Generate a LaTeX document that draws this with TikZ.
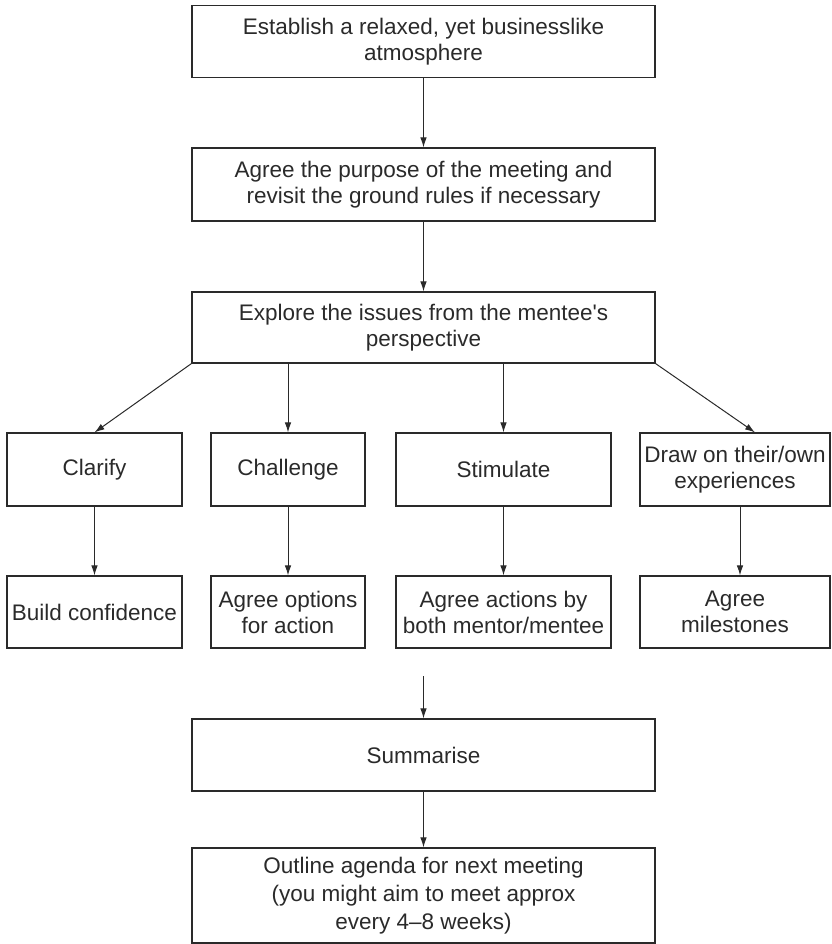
\documentclass[tikz,border=0pt]{standalone}
\usepackage{fontspec}
\setmainfont{Liberation Sans}
\usetikzlibrary{arrows.meta}
\definecolor{ink}{HTML}{2A2A2A}
\begin{document}
\begin{tikzpicture}[x=1pt,y=1pt,
  box/.style={draw=ink, line width=1.1pt, inner sep=0pt, align=center, text=ink,
    font=\fontsize{22.5}{26}\selectfont},
  conn/.style={draw=ink, line width=1pt, -{Latex[length=10pt,width=6.5pt]}}]
\useasboundingbox (0,0) rectangle (831,-944);
% central column
\node[box, minimum width=463pt, minimum height=72pt] (b1) at (423.5,-41.5) {Establish a relaxed, yet businesslike\\atmosphere};
\node[box, minimum width=463pt, minimum height=73pt] (b2) at (423.5,-184.5) {Agree the purpose of the meeting and\\revisit the ground rules if necessary};
\node[box, minimum width=463pt, minimum height=71pt] (b3) at (423.5,-327.5) {Explore the issues from the mentee\textquotesingle s\\perspective};
% row 1
\node[box, minimum width=175pt, minimum height=73pt] (c1) at (94.5,-469.5) {Clarify};
\node[box, minimum width=154pt, minimum height=73pt] (c2) at (288,-469.5) {Challenge};
\node[box, minimum width=215pt, minimum height=73pt] (c3) at (503.5,-469.5) {Stimulate};
\node[box, minimum width=190pt, minimum height=73pt] (c4) at (735,-469.5) {Draw on their/own\\experiences};
% row 2
\node[box, minimum width=175pt, minimum height=72pt] (d1) at (94.5,-612) {Build confidence};
\node[box, minimum width=154pt, minimum height=72pt] (d2) at (288,-612) {Agree options\\for action};
\node[box, minimum width=215pt, minimum height=72pt] (d3) at (503.5,-612) {Agree actions by\\both mentor/mentee};
\node[box, minimum width=190pt, minimum height=72pt] (d4) at (735,-612) {Agree\\milestones};
% bottom
\coordinate (free) at (423.5,-676);
\node[box, minimum width=463pt, minimum height=72pt] (s) at (423.5,-755) {Summarise};
\node[box, minimum width=463pt, minimum height=95pt, font=\fontsize{22.5}{28}\selectfont] (o) at (423.5,-895.5) {Outline agenda for next meeting\\(you might aim to meet approx\\every 4--8 weeks)};
% connectors
\draw[conn] (b1) -- (b2);
\draw[conn] (b2) -- (b3);
\draw[conn] (b3.south west) -- (c1.north);
\draw[conn] (b3.south -| c2.north) -- (c2.north);
\draw[conn] (b3.south -| c3.north) -- (c3.north);
\draw[conn] (b3.south east) -- ([xshift=20pt]c4.north);
\draw[conn] (c1) -- (d1);
\draw[conn] (c2) -- (d2);
\draw[conn] (c3) -- (d3);
\draw[conn] ([xshift=5pt]c4.south) -- ([xshift=5pt]d4.north);
\draw[conn] (free) -- (s.north);
\draw[conn] (s) -- (o);
\end{tikzpicture}
\end{document}
